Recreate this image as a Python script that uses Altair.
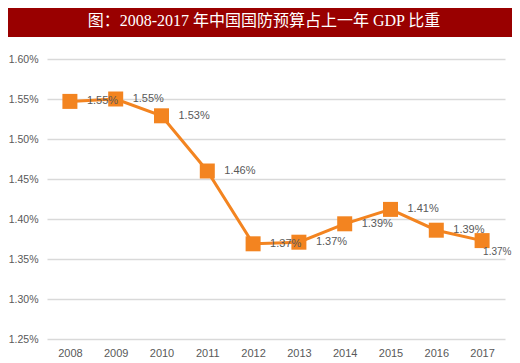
import altair as alt
import pandas as pd

# ---- data ----
years = ["2008", "2009", "2010", "2011", "2012", "2013", "2014", "2015", "2016", "2017"]
share_pct = [1.547, 1.550, 1.529, 1.460, 1.369, 1.371, 1.394, 1.412, 1.386, 1.373]
y_ticks_pct = [1.25, 1.30, 1.35, 1.40, 1.45, 1.50, 1.55, 1.60]
title_text = "图：2008-2017 年中国国防预算占上一年 GDP 比重"

df = pd.DataFrame({"year": years, "share": [v / 100 for v in share_pct]})
tick_vals = [round(v / 100, 6) for v in y_ticks_pct]
last_year = years[-1]

ORANGE = "#F38420"
GREY_TXT = "#595959"

x_enc = alt.X(
    "year:N",
    scale=alt.Scale(type="point", padding=0.5),
    axis=alt.Axis(
        title=None, domain=False, ticks=False, labelAngle=0, labelPadding=8,
        labelFont="Liberation Sans", labelFontSize=11, labelColor=GREY_TXT, grid=False,
    ),
)
y_enc = alt.Y(
    "share:Q",
    scale=alt.Scale(domain=[tick_vals[0], tick_vals[-1]], nice=False, zero=False),
    axis=alt.Axis(
        title=None, domain=False, ticks=False, values=tick_vals, format=".2%",
        labelPadding=9, labelFont="Liberation Sans", labelFontSize=10.5,
        labelColor=GREY_TXT, grid=True, gridColor="#D9D9D9", gridWidth=1.6,
    ),
)

base = alt.Chart(df).encode(x=x_enc, y=y_enc)

line = base.mark_line(color=ORANGE, strokeWidth=3)
points = base.mark_point(shape="square", filled=True, size=225, color=ORANGE, opacity=1)
labels = base.transform_filter(alt.datum.year != last_year).mark_text(
    align="left", baseline="middle", dx=17, font="Liberation Sans", fontSize=11, color=GREY_TXT
).encode(text=alt.Text("share:Q", format=".2%"))
last_label = base.transform_filter(alt.datum.year == last_year).mark_text(
    align="left", baseline="middle", dx=1, dy=11, font="Liberation Sans", fontSize=10, color=GREY_TXT
).encode(text=alt.Text("share:Q", format=".2%"))

title_df = pd.DataFrame({"t": [title_text]})
bar = alt.Chart(title_df).mark_rect(color="#990000").encode(
    x=alt.value(-39), x2=alt.value(465), y=alt.value(-51), y2=alt.value(-22)
)
title = alt.Chart(title_df).mark_text(
    color="white", fontSize=16, font="Liberation Serif, Noto Sans CJK SC",
    align="center", baseline="middle",
).encode(text="t:N", x=alt.value(217), y=alt.value(-38))

chart = (
    alt.layer(bar, title, line, points, labels, last_label)
    .properties(
        width=458, height=280,
        autosize=alt.AutoSizeParams(type="none"),
        padding={"left": 39, "top": 51, "right": 7, "bottom": 20},
        background="white",
    )
    .configure_view(stroke=None)
)

chart.save("out.html", embed_options={"renderer": "svg", "actions": False})
